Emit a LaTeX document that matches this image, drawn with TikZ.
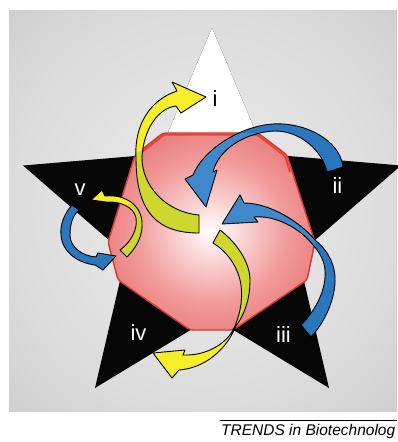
\documentclass[tikz,border=0pt]{standalone}
\usepackage{fontspec}
\setmainfont{Liberation Sans}
\definecolor{argold}{HTML}{F7EE2A}
\definecolor{arolive}{HTML}{CED62F}
\definecolor{arblue}{HTML}{2A77BE}
\definecolor{arsky}{HTML}{3F88CA}
\definecolor{cellred}{HTML}{CF3A32}
\definecolor{celltop}{HTML}{E23A2E}
\definecolor{starblack}{HTML}{060606}
\pgfdeclareradialshading{cellglow}{\pgfpoint{0bp}{0bp}}{rgb(0bp)=(1,1,1); rgb(4bp)=(0.99,0.91,0.91); rgb(18bp)=(0.95,0.61,0.61); rgb(32bp)=(0.90,0.43,0.43); rgb(50bp)=(0.86,0.34,0.34)}
\pgfdeclareradialshading{panelglow}{\pgfpoint{0bp}{0bp}}{rgb(0bp)=(0.93,0.93,0.93); rgb(25bp)=(0.86,0.86,0.86); rgb(50bp)=(0.75,0.75,0.75); rgb(71bp)=(0.64,0.64,0.64)}

% outlines (pixel grid, y downwards)
\def\cellpath{(163,133) -- (258,133) -- (287,155) -- (315,242) -- (307,280) -- (233,330) -- (190,330) -- (118,280) -- (108,242) -- (135,155) -- cycle}
\def\arrowOne{(199,233) .. controls (160,233) and (136,215) .. (136,158) .. controls (134,125) and (150,100) .. (177,91) -- (172,82) -- (206,97) -- (181,113) -- (176,106) .. controls (158,108) and (143,130) .. (142,158) .. controls (142,185) and (165,212) .. (199,215) -- cycle}
\def\arrowTwo{(343,167) .. controls (340,140) and (305,122) .. (273,124) .. controls (240,126) and (203,150) .. (193,175) -- (185,179) -- (206,207) -- (217,170) -- (213,172) .. controls (218,150) and (245,132) .. (275,131) .. controls (300,131) and (322,150) .. (327,172) -- cycle}
\def\arrowThree{(311,337) .. controls (325,322) and (336,298) .. (335,277) .. controls (334,260) and (325,248) .. (315,240) .. controls (300,222) and (270,203) .. (244,203) -- (240,195) -- (222,224) -- (258,222) -- (254,217) .. controls (275,215) and (300,228) .. (313,245) .. controls (322,255) and (326,265) .. (325,277) .. controls (324,295) and (313,313) .. (301,325) -- cycle}
\def\arrowFour{(220,230) .. controls (236,242) and (250,262) .. (250,280) .. controls (250,300) and (244,315) .. (236,326) .. controls (226,350) and (205,368) .. (179,370) -- (172,378) -- (153,353) -- (185,350) -- (183,355) .. controls (205,356) and (225,345) .. (233,330) .. controls (240,316) and (243,300) .. (241,285) .. controls (238,265) and (225,250) .. (213,243) -- cycle}
\def\arrowFive{(127,257) .. controls (137,247) and (143,235) .. (142,222) .. controls (141,205) and (125,194) .. (105,196) -- (102,190) -- (91,200) -- (106,202) .. controls (120,201) and (134,207) .. (136,218) .. controls (138,230) and (130,243) .. (120,250) -- cycle}
\def\arrowSix{(72,205) .. controls (64,214) and (60,225) .. (61,235) .. controls (62,252) and (78,263) .. (95,265) -- (103,270) -- (116,256) -- (98,253) -- (96,257) .. controls (82,256) and (70,247) .. (70,235) .. controls (70,222) and (74,214) .. (79,210) -- cycle}

% fill in two tones, draw outline
\newcommand\twotone[4]{%
  \fill[#2] #1;
  \begin{scope}\clip #4; \fill[#3] #1; \end{scope}
  \draw[arrowline] #1;}

\begin{document}
\begin{tikzpicture}[x=1pt,y=-1pt,
    arrowline/.style={draw=black,line width=0.9pt,line join=round},
    numlbl/.style={anchor=base,text=white,inner sep=0pt,
                   font=\fontsize{22}{22}\selectfont}]
  \useasboundingbox (0,0) rectangle (397,442);
  \fill[white] (0,0) rectangle (397,442);
  % background panel
  \shade[shading=panelglow] (9,10) rectangle (397,411);
  % star, top spike white
  \fill[starblack] (212,28) -- (265,154) -- (401,165.5) -- (298,255) -- (329,388)
    -- (212,317) -- (95,388) -- (126,255) -- (23,165.5) -- (159,154) -- cycle;
  \fill[white] (212,28) -- (265,154) -- (159,154) -- cycle;
  % cell
  \shade[shading=cellglow,rounded corners=3pt] \cellpath;
  \draw[draw=cellred,line width=1.4pt,line join=round,rounded corners=3pt] \cellpath;
  \draw[draw=celltop,line width=2pt,line join=round,rounded corners=3pt,opacity=0.85]
    (137,156) -- (164,134.5) -- (257,134.5) -- (285,156) -- (290,172);
  % arrows
  \twotone{\arrowSix}{arblue}{arsky}{\cellpath}
  \twotone{\arrowFive}{argold}{arolive}{(112,262) -- (112,240) -- (128,204) -- (150,204) -- (150,262) -- cycle}
  \twotone{\arrowOne}{argold}{arolive}{\cellpath}
  \twotone{\arrowTwo}{arblue}{arsky}{\cellpath}
  \twotone{\arrowThree}{arblue}{arsky}{\cellpath}
  \twotone{\arrowFour}{argold}{arolive}{\cellpath}
  % labels
  \node[numlbl,text=black] (lbli) at (215,106) {i};
  \node[numlbl] (lblii) at (337.5,193) {ii};
  \node[numlbl] (lbliii) at (283.5,342) {iii};
  \node[numlbl] (lbliv) at (138.5,340) {iv};
  \node[numlbl] (lblv) at (80,195) {v};
  % credit line
  \node[anchor=base west,inner sep=0pt,font=\fontsize{15.5}{15.5}\selectfont\itshape]
    (credit) at (221,435) {TRENDS in Biotechnolog};
  \draw[line width=0.6pt] (220,420) -- (397,420);
\end{tikzpicture}
\end{document}
